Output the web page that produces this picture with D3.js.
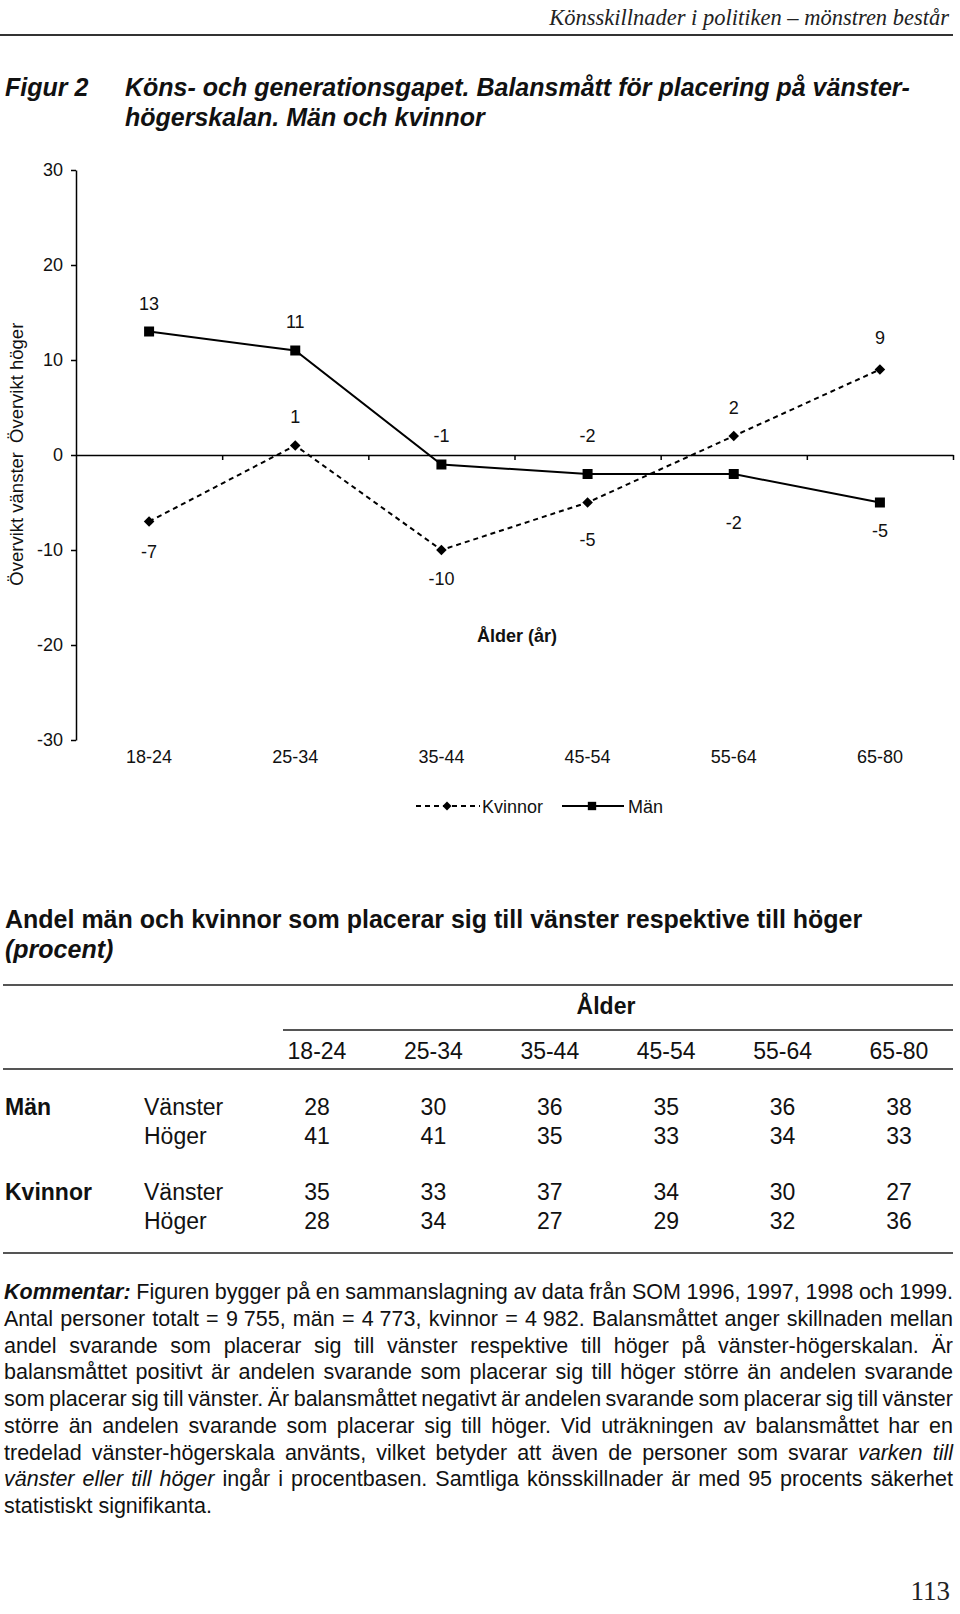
<!DOCTYPE html>
<html><head><meta charset="utf-8">
<script src="https://cdn.jsdelivr.net/npm/d3@7"></script>
<style>
body{margin:0;background:#fff}
svg{display:block}
</style>
</head><body>
<svg id="c" width="960" height="1614"></svg>
<script>
// ---------------- DATA ----------------
const headerText = "Könsskillnader i politiken – mönstren består";
const figLabel = "Figur 2";
const titleLines = ["Köns- och generationsgapet. Balansmått för placering på vänster-", "högerskalan. Män och kvinnor"];
const ageGroups = ["18-24", "25-34", "35-44", "45-54", "55-64", "65-80"];
const manBalance = [13, 11, -1, -2, -2, -5];
const kvinnorBalance = [-7, 1, -10, -5, 2, 9];
const yTicks = [-30, -20, -10, 0, 10, 20, 30];
const seriesNames = ["Kvinnor", "Män"];
const yTitleTop = "Övervikt höger";
const yTitleBottom = "Övervikt vänster";
const xTitle = "Ålder (år)";

const tableTitle = "Andel män och kvinnor som placerar sig till vänster respektive till höger";
const tableTitle2 = "(procent)";
const tableHead = "Ålder";
const manVanster = [28, 30, 36, 35, 36, 38];
const manHoger = [41, 41, 35, 33, 34, 33];
const kvVanster = [35, 33, 37, 34, 30, 27];
const kvHoger = [28, 34, 27, 29, 32, 36];
const groupNames = ["Män", "Kvinnor"];
const sideNames = ["Vänster", "Höger"];

const commentLines = [
  [["Kommentar:", "bi"], ["Figuren bygger på en sammanslagning av data från SOM 1996, 1997, 1998 och 1999.", "n"]],
  [["Antal personer totalt = 9\u00a0755, män = 4\u00a0773, kvinnor = 4\u00a0982. Balansmåttet anger skillnaden mellan", "n"]],
  [["andel svarande som placerar sig till vänster respektive till höger på vänster-högerskalan. Är", "n"]],
  [["balansmåttet positivt är andelen svarande som placerar sig till höger större än andelen svarande", "n"]],
  [["som placerar sig till vänster. Är balansmåttet negativt är andelen svarande som placerar sig till vänster", "n"]],
  [["större än andelen svarande som placerar sig till höger. Vid uträkningen av balansmåttet har en", "n"]],
  [["tredelad vänster-högerskala använts, vilket betyder att även de personer som svarar", "n"], ["varken till", "i"]],
  [["vänster eller till höger", "i"], ["ingår i procentbasen. Samtliga könsskillnader är med 95 procents säkerhet", "n"]],
  [["statistiskt signifikanta.", "n"]]
];
const pageNumber = "113";

// label placement (style): vertical offset of value labels from points
const manLabelDy = [-28, -29, -29, -39, 48, 28];
const kvLabelDy = [30, -29, 28, 37, -29, -32];

// ---------------- DRAW ----------------
const sans = '"Liberation Sans", Arial, Helvetica, sans-serif';
const serif = '"Liberation Serif", "Times New Roman", serif';
const ink = "#111";
const svg = d3.select("#c");

// running header
svg.append("text").attr("x", 949).attr("y", 25).attr("text-anchor", "end")
  .attr("font-family", serif).attr("font-style", "italic").attr("font-size", 22.5).attr("fill", "#222")
  .text(headerText);
svg.append("line").attr("x1", 0).attr("x2", 953).attr("y1", 35).attr("y2", 35)
  .attr("stroke", "#333").attr("stroke-width", 2);

// figure title
svg.append("text").attr("x", 5).attr("y", 96).attr("font-family", sans).attr("font-weight", "bold")
  .attr("font-style", "italic").attr("font-size", 25).attr("fill", ink).text(figLabel);
titleLines.forEach((t, i) => {
  svg.append("text").attr("x", 125).attr("y", 96 + i * 30).attr("font-family", sans).attr("font-weight", "bold")
    .attr("font-style", "italic").attr("font-size", 25).attr("fill", ink).text(t);
});

// chart
const x = d3.scaleBand().domain(ageGroups).range([76, 953]);
const cx = a => x(a) + x.bandwidth() / 2;
const y = d3.scaleLinear().domain([-30, 30]).range([740, 170]);
const xEdge = d3.scaleLinear().domain([0, ageGroups.length]).range([76, 953]);

const chart = svg.append("g").attr("font-family", sans);

const yAxis = chart.append("g").attr("transform", "translate(76,0)")
  .call(d3.axisLeft(y).tickValues(yTicks).tickSizeInner(5).tickSizeOuter(0).tickPadding(8).tickFormat(d => String(d)));
yAxis.selectAll("text").attr("font-size", 18).attr("font-family", sans).attr("fill", ink);
yAxis.selectAll("line, path").attr("stroke", "#000").attr("stroke-width", 1.5);

const zeroAxis = chart.append("g").attr("transform", `translate(0,${y(0)})`)
  .call(d3.axisBottom(xEdge).tickValues(d3.range(1, ageGroups.length + 1)).tickSizeInner(5).tickSizeOuter(0).tickFormat(""));
zeroAxis.selectAll("line, path").attr("stroke", "#000").attr("stroke-width", 1.5);

const xLab = chart.append("g").attr("transform", `translate(0,${y(-30)})`)
  .call(d3.axisBottom(x).tickSize(0).tickPadding(10));
xLab.select(".domain").remove();
xLab.selectAll("text").attr("font-size", 18).attr("font-family", sans).attr("fill", ink);

// axis titles
chart.append("text").attr("transform", `translate(22.5,443) rotate(-90)`).attr("text-anchor", "start")
  .attr("font-size", 18.5).attr("fill", ink).text(yTitleTop);
chart.append("text").attr("transform", `translate(22.5,452) rotate(-90)`).attr("text-anchor", "end")
  .attr("font-size", 18.5).attr("fill", ink).text(yTitleBottom);
chart.append("text").attr("x", 517).attr("y", 641.5).attr("text-anchor", "middle")
  .attr("font-size", 18).attr("font-weight", "bold").attr("fill", ink).text(xTitle);

const line = d3.line().x((d, i) => cx(ageGroups[i])).y(d => y(d));

// Män
chart.append("path").datum(manBalance).attr("d", line).attr("fill", "none")
  .attr("stroke", "#000").attr("stroke-width", 2);
// Kvinnor
chart.append("path").datum(kvinnorBalance).attr("d", line).attr("fill", "none")
  .attr("stroke", "#000").attr("stroke-width", 2).attr("stroke-dasharray", "5,4");

const sq = d3.symbol(d3.symbolSquare, 100);
const dia = d3.symbol(d3.symbolSquare, 56);
chart.selectAll(".mm").data(manBalance).enter().append("path")
  .attr("d", sq).attr("transform", (d, i) => `translate(${cx(ageGroups[i])},${y(d)})`).attr("fill", "#000");
chart.selectAll(".km").data(kvinnorBalance).enter().append("path")
  .attr("d", dia).attr("transform", (d, i) => `translate(${cx(ageGroups[i])},${y(d)}) rotate(45)`).attr("fill", "#000");

chart.selectAll(".ml").data(manBalance).enter().append("text")
  .attr("x", (d, i) => cx(ageGroups[i])).attr("y", (d, i) => y(d) + manLabelDy[i] + 6.5)
  .attr("text-anchor", "middle").attr("font-size", 18).attr("fill", ink).text(d => d);
chart.selectAll(".kl").data(kvinnorBalance).enter().append("text")
  .attr("x", (d, i) => cx(ageGroups[i])).attr("y", (d, i) => y(d) + kvLabelDy[i] + 6.5)
  .attr("text-anchor", "middle").attr("font-size", 18).attr("fill", ink).text(d => d);

// legend
const lg = chart.append("g").attr("transform", "translate(0,806)");
lg.append("line").attr("x1", 416).attr("x2", 480).attr("stroke", "#000").attr("stroke-width", 2).attr("stroke-dasharray", "5,4");
lg.append("path").attr("d", d3.symbol(d3.symbolSquare, 40)).attr("transform", "translate(447,0) rotate(45)");
lg.append("text").attr("x", 482).attr("y", 6.5).attr("font-size", 18).attr("fill", ink).text(seriesNames[0]);
lg.append("line").attr("x1", 562).attr("x2", 624).attr("stroke", "#000").attr("stroke-width", 2);
lg.append("path").attr("d", d3.symbol(d3.symbolSquare, 70)).attr("transform", "translate(592,0)");
lg.append("text").attr("x", 628).attr("y", 6.5).attr("font-size", 18).attr("fill", ink).text(seriesNames[1]);

// ---------------- TABLE ----------------
const tb = svg.append("g").attr("font-family", sans).attr("fill", ink);
tb.append("text").attr("x", 5).attr("y", 928).attr("font-size", 25).attr("font-weight", "bold").text(tableTitle);
tb.append("text").attr("x", 5).attr("y", 958).attr("font-size", 25).attr("font-weight", "bold").attr("font-style", "italic").text(tableTitle2);

const rule = (x1, x2, yy) => tb.append("line").attr("x1", x1).attr("x2", x2).attr("y1", yy).attr("y2", yy)
  .attr("stroke", "#555").attr("stroke-width", 2);
rule(3, 953, 985);
rule(283, 953, 1030);
rule(3, 953, 1069);
rule(3, 953, 1253);

const col = d3.scalePoint().domain(ageGroups).range([317, 899]);
tb.append("text").attr("x", 606).attr("y", 1014).attr("text-anchor", "middle").attr("font-size", 23)
  .attr("font-weight", "bold").text(tableHead);
tb.selectAll(".th").data(ageGroups).enter().append("text").attr("x", d => col(d)).attr("y", 1059)
  .attr("text-anchor", "middle").attr("font-size", 23).text(d => d);

const rows = [
  { g: groupNames[0], s: sideNames[0], v: manVanster, cy: 1107 },
  { g: null, s: sideNames[1], v: manHoger, cy: 1136 },
  { g: groupNames[1], s: sideNames[0], v: kvVanster, cy: 1192 },
  { g: null, s: sideNames[1], v: kvHoger, cy: 1221 }
];
rows.forEach(r => {
  const by = r.cy + 8.3;
  if (r.g) tb.append("text").attr("x", 5).attr("y", by).attr("font-size", 23).attr("font-weight", "bold").text(r.g);
  tb.append("text").attr("x", 144).attr("y", by).attr("font-size", 23).text(r.s);
  tb.selectAll(null).data(r.v).enter().append("text").attr("x", (d, i) => col(ageGroups[i])).attr("y", by)
    .attr("text-anchor", "middle").attr("font-size", 23).text(d => d);
});

// ---------------- COMMENT ----------------
const cfs = 21.5;
const styleAttrs = s => ({
  weight: s === "bi" || s === "b" ? "bold" : "normal",
  fstyle: s === "bi" || s === "i" ? "italic" : "normal"
});
const meas = svg.append("text").attr("font-family", sans).attr("font-size", cfs).attr("x", -1000).attr("y", -1000);
function measure(t, s) {
  const a = styleAttrs(s);
  meas.attr("font-weight", a.weight).attr("font-style", a.fstyle).text(t);
  return meas.node().getComputedTextLength();
}
const spaceW = measure("a a", "n") - measure("aa", "n");
const cm = svg.append("g").attr("font-family", sans).attr("font-size", cfs).attr("fill", ink);
const left = 4, right = 953;
commentLines.forEach((segs, li) => {
  const words = [];
  segs.forEach(([t, s]) => t.split(" ").filter(w => w.length).forEach(w => words.push({ w, s, wd: measure(w, s) })));
  const total = d3.sum(words, d => d.wd);
  const last = li === commentLines.length - 1;
  const gap = last ? spaceW : (right - left - total) / (words.length - 1);
  let xx = left;
  const by = 1292 + li * 26.75 + 7;
  words.forEach(w => {
    const a = styleAttrs(w.s);
    cm.append("text").attr("x", xx).attr("y", by).attr("font-weight", a.weight).attr("font-style", a.fstyle).text(w.w);
    xx += w.wd + gap;
  });
});
meas.remove();

// page number
svg.append("text").attr("x", 950).attr("y", 1600).attr("text-anchor", "end").attr("font-family", serif)
  .attr("font-size", 27).attr("fill", "#222").text(pageNumber);
</script>
</body></html>
